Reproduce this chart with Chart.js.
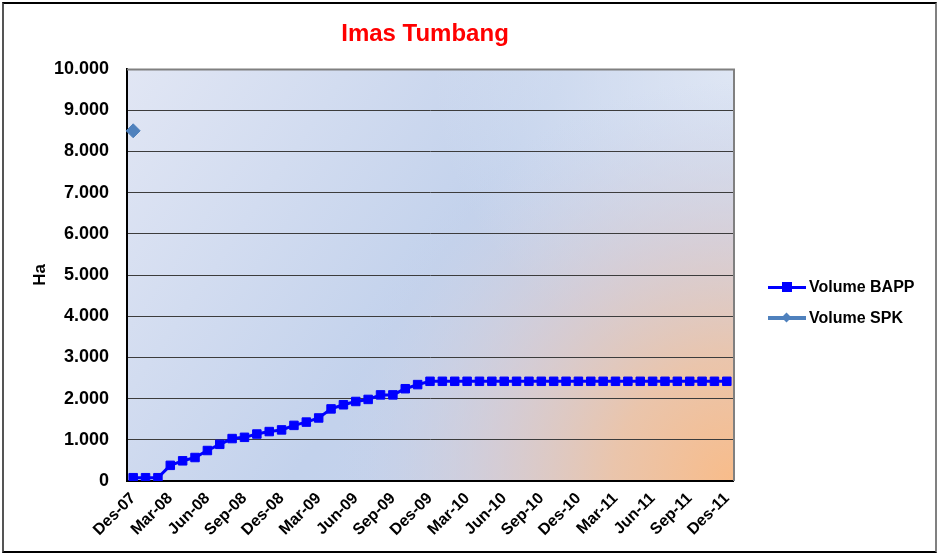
<!DOCTYPE html>
<html>
<head>
<meta charset="utf-8">
<script src="https://cdn.jsdelivr.net/npm/chart.js@4/dist/chart.umd.min.js"></script>
<style>
  html, body { margin: 0; padding: 0; background: #fff; }
  #wrap { position: relative; width: 939px; height: 556px; overflow: hidden; }
  #frame { position: absolute; left: 2px; top: 2px; width: 935px; height: 551px;
           border-top: 2px solid #000; border-left: 2px solid #555; border-bottom: 2px solid #000;
           border-right: 2px solid #808080; box-sizing: border-box; pointer-events: none; }
  .leg { position: absolute; left: 768px; font: bold 16px "Liberation Sans", Arial, sans-serif; color: #000; height: 20px; }
  .leg .ln { position: absolute; left: 0; width: 38px; top: 9px; height: 3px; }
  .leg .mk { position: absolute; }
  .leg .tx { position: absolute; left: 41px; top: 0; line-height: 20px; white-space: nowrap; }
</style>
</head>
<body>
<div id="wrap">
  <canvas id="c" width="939" height="556"></canvas>
  <div id="frame"></div>
  <div class="leg" style="top:277px">
    <div class="ln" style="background:#0000ff"></div>
    <div class="mk" style="left:14px;top:5px;width:10px;height:10px;background:#0000ff"></div>
    <div class="tx">Volume BAPP</div>
  </div>
  <div class="leg" style="top:308px">
    <div class="ln" style="background:#4f81bd;height:4px;top:8px"></div>
    <div class="mk" style="left:15px;top:6px;width:7px;height:7px;background:#4f81bd;transform:rotate(45deg)"></div>
    <div class="tx">Volume SPK</div>
  </div>
</div>
<script>
const chartTitle = "Imas Tumbang";
const yAxisTitle = "Ha";
const seriesNames = ["Volume BAPP", "Volume SPK"];
const months = [
  "Des-07",
  "Jan-08","Feb-08","Mar-08","Apr-08","Mei-08","Jun-08","Jul-08","Agu-08","Sep-08","Okt-08","Nov-08","Des-08",
  "Jan-09","Feb-09","Mar-09","Apr-09","Mei-09","Jun-09","Jul-09","Agu-09","Sep-09","Okt-09","Nov-09","Des-09",
  "Jan-10","Feb-10","Mar-10","Apr-10","Mei-10","Jun-10","Jul-10","Agu-10","Sep-10","Okt-10","Nov-10","Des-10",
  "Jan-11","Feb-11","Mar-11","Apr-11","Mei-11","Jun-11","Jul-11","Agu-11","Sep-11","Okt-11","Nov-11","Des-11"
];
const volumeBAPP = [
  80,
  80, 80, 380, 490, 570, 740, 890, 1030, 1060, 1140, 1200, 1240,
  1350, 1430, 1530, 1750, 1850, 1930, 1980, 2090, 2090, 2240, 2340, 2420,
  2420, 2420, 2420, 2420, 2420, 2420, 2420, 2420, 2420, 2420, 2420, 2420,
  2420, 2420, 2420, 2420, 2420, 2420, 2420, 2420, 2420, 2420, 2420, 2420
];
const volumeSPK = [8500].concat(new Array(48).fill(null));
const yTicks = { min: 0, max: 10000, step: 1000 };

const FONT = '"Liberation Sans", Arial, sans-serif';

function fmt(v) {
  if (v === 0) return "0";
  const s = String(Math.round(v));
  return s.replace(/\B(?=(\d{3})+(?!\d))/g, ".");
}

const bgPlugin = {
  id: 'bg',
  afterLayout(chart) {
    const t = chart.titleBlock;
    if (t) { t.left -= 5; t.right -= 5; }
  },
  beforeDraw(chart) {
    const { ctx, chartArea: a } = chart;
    ctx.save();
    ctx.fillStyle = '#fff';
    ctx.fillRect(0, 0, chart.width, chart.height);
    const w = a.right - a.left, h = a.bottom - a.top;
    let g = ctx.createLinearGradient(a.left, a.top, a.right, a.bottom);
    g.addColorStop(0, '#e1e6f4');
    g.addColorStop(0.5, '#c3d2ec');
    g.addColorStop(1, '#c8d3ea');
    ctx.fillStyle = g;
    ctx.fillRect(a.left, a.top, w, h);
    let g2 = ctx.createRadialGradient(a.right, a.top, 0, a.right, a.top, 300);
    g2.addColorStop(0, 'rgba(225,232,245,0.9)');
    g2.addColorStop(1, 'rgba(225,232,245,0)');
    ctx.fillStyle = g2;
    ctx.fillRect(a.left, a.top, w, h);
    let g3 = ctx.createRadialGradient(a.right, a.bottom, 0, a.right, a.bottom, 400);
    g3.addColorStop(0, 'rgba(248,188,138,1)');
    g3.addColorStop(0.3, 'rgba(236,196,168,0.95)');
    g3.addColorStop(0.6, 'rgba(218,202,205,0.7)');
    g3.addColorStop(1, 'rgba(200,210,235,0)');
    ctx.fillStyle = g3;
    ctx.fillRect(a.left, a.top, w, h);
    ctx.restore();
  },
  afterDraw(chart) {
    const { ctx, chartArea: a } = chart;
    ctx.save();
    ctx.strokeStyle = '#808080';
    ctx.lineWidth = 2;
    ctx.beginPath();
    ctx.moveTo(a.left, a.top + 0.5);
    ctx.lineTo(a.right + 1, a.top + 0.5);
    ctx.lineTo(a.right + 1, a.bottom);
    ctx.stroke();
    ctx.restore();
  }
};

new Chart(document.getElementById('c'), {
  type: 'line',
  data: {
    labels: months,
    datasets: [
      {
        label: seriesNames[0],
        data: volumeBAPP,
        borderColor: '#0000ff',
        backgroundColor: '#0000ff',
        borderWidth: 3,
        pointStyle: 'rect',
        pointRadius: 6,
        pointBorderWidth: 1,
        pointBackgroundColor: '#0000ff',
        pointBorderColor: '#0000ff',
        tension: 0,
        order: 1
      },
      {
        label: seriesNames[1],
        data: volumeSPK,
        borderColor: '#4f81bd',
        backgroundColor: '#4f81bd',
        borderWidth: 3,
        pointStyle: 'rectRot',
        pointRadius: 7,
        pointBorderWidth: 1,
        pointBackgroundColor: '#4f81bd',
        pointBorderColor: '#4f81bd',
        spanGaps: false,
        order: 2
      }
    ]
  },
  options: {
    responsive: false,
    animation: false,
    layout: { padding: { left: 0, right: 206, top: 0, bottom: 0 } },
    plugins: {
      legend: { display: false },
      tooltip: { enabled: false },
      title: {
        display: true,
        text: chartTitle,
        fullSize: false,
        color: '#ff0000',
        font: { family: FONT, size: 24, weight: 'bold', lineHeight: 1.2 },
        padding: { top: 20, bottom: 20.2 }
      }
    },
    scales: {
      x: {
        type: 'category',
        offset: true,
        grid: { display: false, drawTicks: false },
        border: { display: true, color: '#000', width: 2 },
        ticks: {
          autoSkip: false,
          maxRotation: 45,
          minRotation: 45,
          padding: 8,
          color: '#000',
          font: { family: FONT, size: 16, weight: 'bold' },
          callback: function (val, i) { return i % 3 === 0 ? months[i] : ''; }
        },
        afterFit(scale) { scale.height = 75; }
      },
      y: {
        min: yTicks.min,
        max: yTicks.max,
        grid: { color: '#3c3c3c', lineWidth: 1, drawTicks: false },
        border: { display: true, color: '#000', width: 2 },
        ticks: {
          stepSize: yTicks.step,
          padding: 18,
          color: '#000',
          font: { family: FONT, size: 18, weight: 'bold' },
          callback: function (v) { return fmt(v); }
        },
        title: {
          display: true,
          text: yAxisTitle,
          color: '#000',
          font: { family: FONT, size: 17, weight: 'bold', lineHeight: 1.2 },
          padding: { top: 30, bottom: 0 }
        },
        afterFit(scale) { scale.width = 127; }
      }
    }
  },
  plugins: [bgPlugin]
});
</script>
</body>
</html>
